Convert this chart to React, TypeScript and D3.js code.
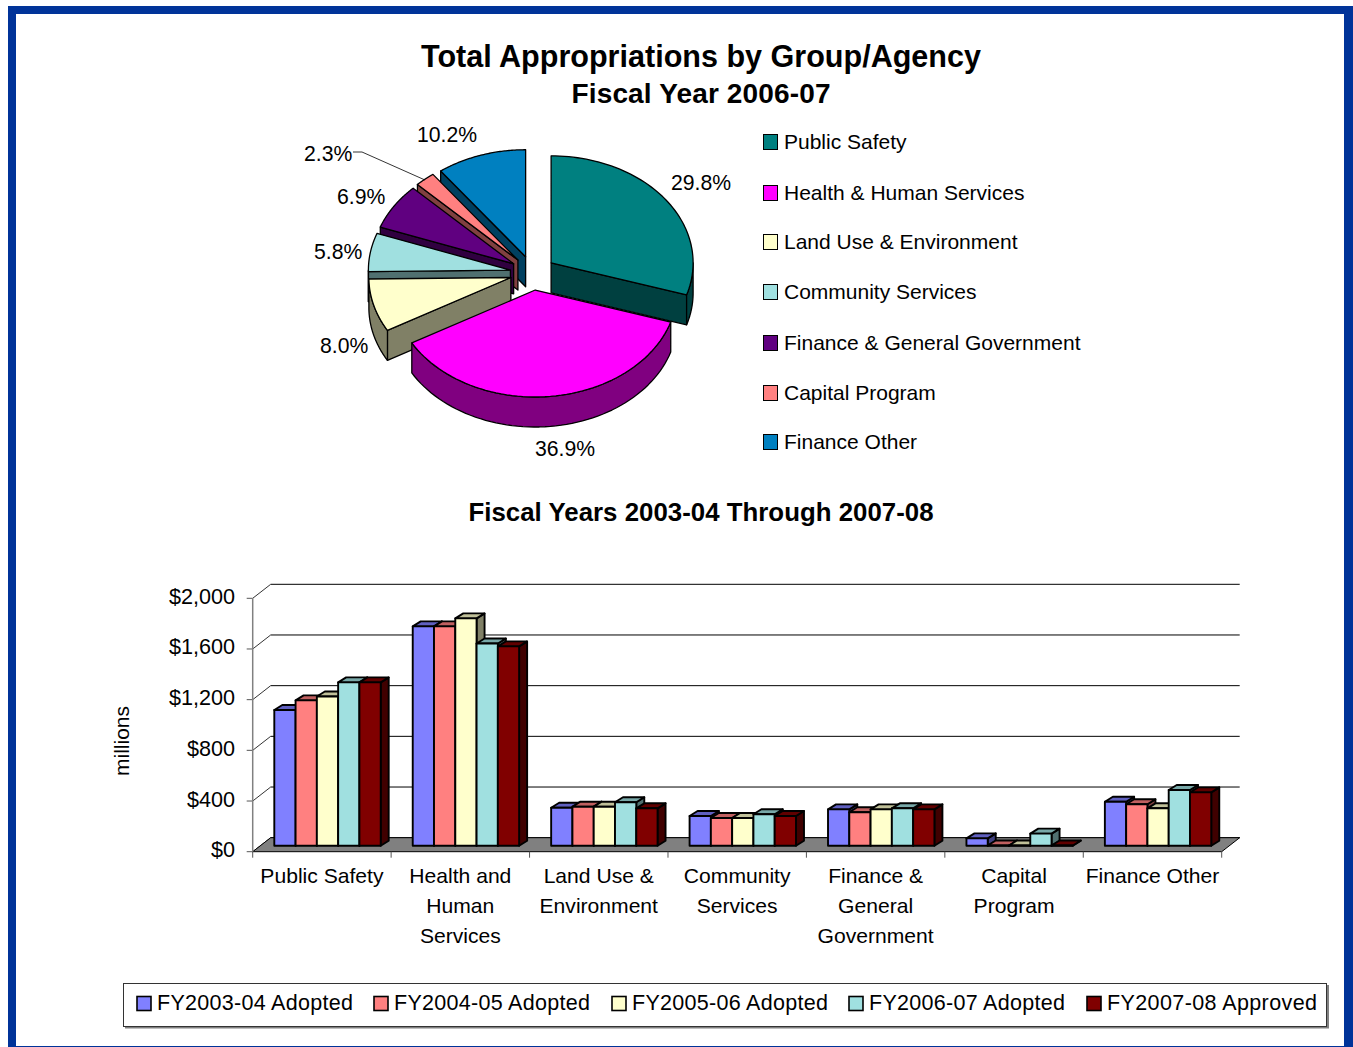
import React from "react";
import * as d3 from "d3";

// Pie: share of the FY 2006-07 appropriations
const agencies = [
  "Public Safety",
  "Health & Human Services",
  "Land Use & Environment",
  "Community Services",
  "Finance & General Government",
  "Capital Program",
  "Finance Other",
];
const shares = [29.8, 36.9, 8.0, 5.8, 6.9, 2.3, 10.2];
const topColors = ["#008080", "#FF00FF", "#FFFFCC", "#A0E0E0", "#600080", "#FF8080", "#0080C0"];
const sideColors = ["#004040", "#800080", "#808066", "#507070", "#300040", "#804040", "#004060"];
const shareLabelAnchors: [number, number][] = [
  [671, 190], [535, 456], [320, 353], [314, 259], [337, 204], [304, 161], [417, 142],
];
const agencyLegendRows = [142, 193, 242, 292, 343, 393, 442];

// Bars: appropriations in millions per group and fiscal year
const groups = [
  ["Public Safety"],
  ["Health and", "Human", "Services"],
  ["Land Use &", "Environment"],
  ["Community", "Services"],
  ["Finance &", "General", "Government"],
  ["Capital", "Program"],
  ["Finance Other"],
];
const fy0304 = [1071, 1731, 300, 234, 287, 58, 347];
const fy0405 = [1147, 1731, 308, 219, 264, 2, 327];
const fy0506 = [1178, 1794, 308, 219, 287, 2, 295];
const fy0607 = [1289, 1596, 343, 248, 295, 95, 440];
const fy0708 = [1289, 1573, 295, 234, 287, 2, 421];
const seriesNames = [
  "FY2003-04 Adopted",
  "FY2004-05 Adopted",
  "FY2005-06 Adopted",
  "FY2006-07 Adopted",
  "FY2007-08 Approved",
];
const seriesValues = [fy0304, fy0405, fy0506, fy0607, fy0708];
const seriesFront = ["#8080FF", "#FF8080", "#FFFFCC", "#A0E0E0", "#800000"];
const seriesTop = ["#6060C0", "#C06060", "#C0C099", "#78A8A8", "#600000"];
const seriesSide = ["#404080", "#804040", "#808066", "#507070", "#400000"];
const valueTicks = [0, 400, 800, 1200, 1600, 2000];
const seriesLegendX = [137, 374, 612, 849, 1087];
const seriesLegendWidths = [196, 196, 196, 196, 210];

const FONT = "'Liberation Sans', Arial, sans-serif";

// Pie geometry: an ellipse tilted towards the viewer, with slices pushed outward
const PIE = { cx: 532.8, cy: 273, rx: 142, ry: 107, depth: 30, explode: 0.16 };

type Pt = [number, number];

function pieSlices() {
  const arcs = d3.pie<number>().sort(null)(shares);
  return arcs.map((a, i) => {
    const mid = (a.startAngle + a.endAngle) / 2;
    const ox = PIE.cx + PIE.explode * PIE.rx * Math.sin(mid);
    const oy = PIE.cy - PIE.explode * PIE.ry * Math.cos(mid);
    const at = (t: number, dy = 0): Pt => [
      ox + PIE.rx * Math.sin(t),
      oy - PIE.ry * Math.cos(t) + dy,
    ];
    const sweep = (from: number, to: number, dy = 0): Pt[] =>
      d3.range(0, 61).map((k) => at(from + ((to - from) * k) / 60, dy));
    return { i, a, ox, oy, at, sweep };
  });
}

const polyline = d3.line<Pt>();
const closed = (pts: Pt[]) => polyline(pts) + "Z";

function PieSlice({ s }: { s: ReturnType<typeof pieSlices>[number] }) {
  const { a, ox, oy, at, sweep, i } = s;
  const d = PIE.depth;
  const apex: Pt = [ox, oy];
  const apexLow: Pt = [ox, oy + d];
  const lo = Math.max(a.startAngle, Math.PI / 2);
  const hi = Math.min(a.endAngle, (3 * Math.PI) / 2);
  const wall = (t: number) => closed([apex, at(t), at(t, d), apexLow]);
  const stroke = { stroke: "#000", strokeWidth: 1.3, strokeLinejoin: "round" as const };
  return (
    <g>
      {a.startAngle >= Math.PI && <path d={wall(a.startAngle)} fill={sideColors[i]} {...stroke} />}
      {a.endAngle <= Math.PI && <path d={wall(a.endAngle)} fill={sideColors[i]} {...stroke} />}
      {hi > lo && (
        <path
          d={closed([...sweep(lo, hi), ...sweep(hi, lo, d)])}
          fill={sideColors[i]}
          {...stroke}
        />
      )}
      <path d={closed([apex, ...sweep(a.startAngle, a.endAngle)])} fill={topColors[i]} {...stroke} />
    </g>
  );
}

function PieChart() {
  const slices = pieSlices();
  // Far slices first, the large front slices last
  const paintOrder = [6, 5, 4, 3, 2, 0, 1];
  return (
    <g>
      {paintOrder.map((k) => (
        <PieSlice key={k} s={slices[k]} />
      ))}
      <path d="M353,152 L362,152 L425,180" fill="none" stroke="#000" strokeWidth={0.8} />
      {shares.map((v, i) => (
        <text key={i} x={shareLabelAnchors[i][0]} y={shareLabelAnchors[i][1]} fontSize={21.2}>
          {v.toFixed(1)}%
        </text>
      ))}
      {agencies.map((name, i) => (
        <g key={name}>
          <rect
            x={763.5}
            y={agencyLegendRows[i] - 7.5}
            width={14}
            height={15}
            fill={topColors[i]}
            stroke="#000"
            strokeWidth={1}
          />
          <text x={784} y={agencyLegendRows[i] + 7} fontSize={21}>
            {name}
          </text>
        </g>
      ))}
    </g>
  );
}

// Bar chart frame: front plane of the floor and the offset to the back wall
const PLOT = { left: 252.7, right: 1221.7, bottom: 851.7, top: 598.3, wallDx: 18, wallDy: 14 };
const BAR = { dx: 8, dy: 5, lift: 6 };

function BarChart() {
  const y = d3.scaleLinear().domain([0, 2000]).range([PLOT.bottom, PLOT.top]);
  const x0 = d3
    .scaleBand<number>()
    .domain(d3.range(groups.length))
    .range([PLOT.left, PLOT.right]);
  const x1 = d3
    .scaleBand<number>()
    .domain(d3.range(seriesNames.length))
    .range([21.6, 128]);
  const { wallDx, wallDy } = PLOT;
  return (
    <g>
      {valueTicks.map((t) => (
        <g key={t}>
          <line
            x1={PLOT.left + wallDx}
            x2={PLOT.right + wallDx}
            y1={y(t) - wallDy}
            y2={y(t) - wallDy}
            stroke="#000"
            strokeWidth={1}
          />
          <line
            x1={PLOT.left}
            x2={PLOT.left + wallDx}
            y1={y(t)}
            y2={y(t) - wallDy}
            stroke="#333"
            strokeWidth={1}
          />
          <line x1={PLOT.left - 6} x2={PLOT.left} y1={y(t)} y2={y(t)} stroke="#555" strokeWidth={1} />
          <text x={235} y={y(t) + 5.5} fontSize={21.6} textAnchor="end">
            {d3.format("$,")(t)}
          </text>
        </g>
      ))}
      <path
        d={closed([
          [PLOT.left, PLOT.bottom],
          [PLOT.right, PLOT.bottom],
          [PLOT.right + wallDx, PLOT.bottom - wallDy],
          [PLOT.left + wallDx, PLOT.bottom - wallDy],
        ])}
        fill="#808080"
        stroke="#000"
        strokeWidth={1}
      />
      <line x1={PLOT.left} x2={PLOT.left} y1={PLOT.top} y2={PLOT.bottom} stroke="#808080" strokeWidth={1.5} />
      {d3.range(groups.length + 1).map((k) => {
        const tx = k < groups.length ? (x0(k) as number) : PLOT.right;
        return (
          <line key={k} x1={tx} x2={tx} y1={PLOT.bottom} y2={PLOT.bottom + 6} stroke="#555" strokeWidth={1} />
        );
      })}
      {groups.map((_, g) =>
        seriesValues.map((vals, s) => {
          const left = (x0(g) as number) + (x1(s) as number);
          const right = left + x1.bandwidth();
          const top = y(vals[g]) - BAR.lift;
          const base = y(0) - BAR.lift;
          const { dx, dy } = BAR;
          const edge = { stroke: "#000", strokeWidth: 1.9, strokeLinejoin: "round" as const };
          return (
            <g key={`${g}-${s}`}>
              <path
                d={closed([[right, top], [right + dx, top - dy], [right + dx, base - dy], [right, base]])}
                fill={seriesSide[s]}
                {...edge}
              />
              <path
                d={closed([[left, top], [left + dx, top - dy], [right + dx, top - dy], [right, top]])}
                fill={seriesTop[s]}
                {...edge}
              />
              <rect x={left} y={top} width={right - left} height={base - top} fill={seriesFront[s]} {...edge} />
            </g>
          );
        })
      )}
      {groups.map((lines, g) =>
        lines.map((ln, k) => (
          <text
            key={ln}
            x={(x0(g) as number) + x0.bandwidth() / 2}
            y={883 + k * 30}
            fontSize={21.1}
            textAnchor="middle"
          >
            {ln}
          </text>
        ))
      )}
      <text transform="translate(129,741) rotate(-90)" fontSize={21} textAnchor="middle">
        millions
      </text>
      <rect x={125} y={985} width={1204} height={43.5} fill="#808080" />
      <rect x={123.5} y={983.5} width={1203} height={43} fill="#fff" stroke="#333" strokeWidth={1} />
      {seriesNames.map((name, s) => (
        <g key={name}>
          <rect
            x={seriesLegendX[s]}
            y={996.5}
            width={14}
            height={14}
            fill={seriesFront[s]}
            stroke="#000"
            strokeWidth={1.6}
          />
          <text
            x={seriesLegendX[s] + 20}
            y={1009.5}
            fontSize={21.5}
            textLength={seriesLegendWidths[s]}
            lengthAdjust="spacing"
          >
            {name}
          </text>
        </g>
      ))}
    </g>
  );
}

export default function App() {
  return (
    <svg
      width={1353}
      height={1047}
      style={{ position: "absolute", left: 0, top: 0, background: "#fff" }}
      fontFamily={FONT}
      fill="#000"
    >
      <g fill="#003399">
        <rect x={8} y={6} width={1345} height={8} />
        <rect x={8} y={6} width={8} height={1041} />
        <rect x={1344} y={6} width={9} height={1041} />
        <rect x={8} y={1046} width={1345} height={1} />
      </g>
      <text x={701} y={67} fontSize={31.5} fontWeight="bold" textAnchor="middle" textLength={560} lengthAdjust="spacingAndGlyphs">
        Total Appropriations by Group/Agency
      </text>
      <text x={701} y={103} fontSize={28} fontWeight="bold" textAnchor="middle" textLength={259}>
        Fiscal Year 2006-07
      </text>
      <text x={701} y={521} fontSize={25.8} fontWeight="bold" textAnchor="middle" textLength={465}>
        Fiscal Years 2003-04 Through 2007-08
      </text>
      <PieChart />
      <BarChart />
    </svg>
  );
}
